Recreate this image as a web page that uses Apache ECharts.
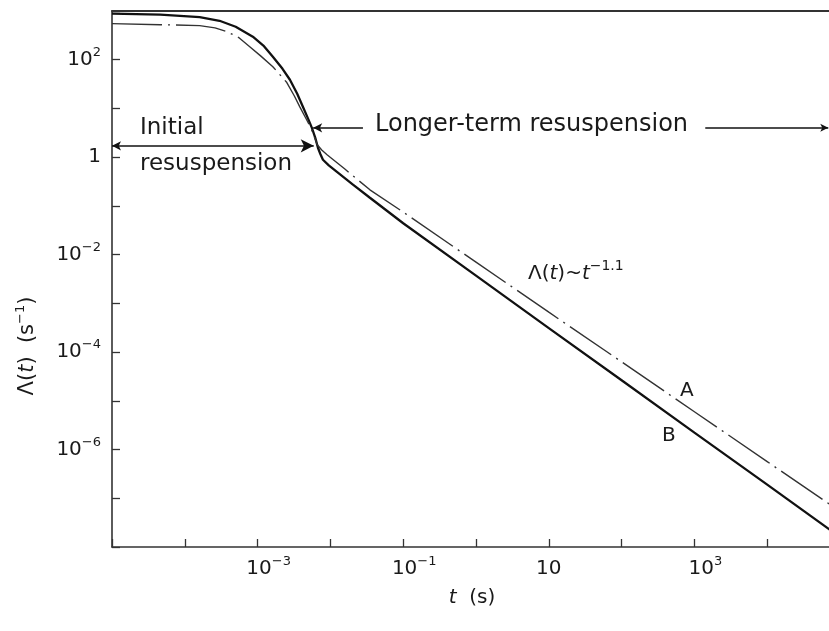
<!DOCTYPE html>
<html>
<head>
<meta charset="utf-8">
<script src="https://cdn.jsdelivr.net/npm/echarts@6/dist/echarts.min.js"></script>
<style>
html,body{margin:0;padding:0;background:#fff;}
#chart{width:829px;height:631px;}
</style>
</head>
<body>
<div id="chart"></div>
<script>
// ---- data (t in s, Lambda in 1/s) ----
const tB = [1e-5, 4.6e-5, 1.6e-4, 3.0e-4, 5.0e-4, 8.6e-4, 1.2e-3, 1.62e-3, 2.2e-3, 2.78e-3, 3.5e-3, 4.19e-3, 5.0e-3, 5.57e-3, 6.2e-3, 6.74e-3, 7.3e-3, 7.9e-3, 9.5e-3, 0.0123, 0.02, 0.0349, 0.1, 1, 10, 100, 1000, 1e4, 1e5];
const lambdaB = [880, 840, 750, 630, 476, 297, 195, 115, 65, 38.8, 20, 10.8, 5.9, 4.0, 2.5, 1.56, 1.15, 0.885, 0.68, 0.50, 0.28, 0.147, 0.044, 3.7e-3, 3.1e-4, 2.65e-5, 2.23e-6, 1.9e-7, 1.6e-8];
const tA = [1e-5, 4.6e-5, 1.6e-4, 2.6e-4, 3.8e-4, 5.5e-4, 7.8e-4, 1.1e-3, 1.62e-3, 2.52e-3, 3.2e-3, 3.8e-3, 4.6e-3, 5.4e-3, 6.6e-3, 7.6e-3, 9.0e-3, 0.0158, 0.0349, 0.1, 1, 10, 100, 1000, 1e4, 1e5];
const lambdaA = [550, 524, 500, 450, 376, 285, 185, 120, 72, 34, 18, 10.8, 6.3, 4.0, 1.8, 1.4, 1.12, 0.57, 0.214, 0.0746, 7.0e-3, 6.6e-4, 6.3e-5, 5.97e-6, 5.65e-7, 5.4e-8];

// axis ranges and labelled decades
const xRange = [1e-5, 1e5];
const yRange = [1e-8, 1e3];
const xLabelExps = [-3, -1, 1, 3];
const yLabelExps = [2, 0, -2, -4, -6];

// annotation arrows (data coordinates)
const initialArrow = [[1e-5, 1.71], [5.9e-3, 1.71]];
const longerArrowLeft = [[5.8e-3, 4.0], [0.028, 4.0]];
const longerArrowRight = [[1.41e3, 4.0], [6.9e4, 4.0]];

const FONT = 'DejaVu Sans';
const INK = '#1a1a1a';

function pairs(xs, ys) { return xs.map((x, i) => [x, ys[i]]); }
function expOf(v) { return Math.round(Math.log10(v)); }
function powLabel(e, centerBase) {
  if (e === 0) return '{b|1}';
  if (e === 1) return '{b|10}';
  const sup = (e < 0 ? '\u2212' : '') + Math.abs(e);
  return (centerBase ? '{sp|}' : '') + '{b|10}{s|' + sup + '}';
}
const richLabel = {
  b: { fontFamily: FONT, fontSize: 20, color: INK, lineHeight: 27 },
  s: { fontFamily: FONT, fontSize: 13, color: INK, verticalAlign: 'top', lineHeight: 14 },
  sp: { width: 22 }
};

const chart = echarts.init(document.getElementById('chart'), null, { renderer: 'canvas' });

const option = {
  animation: false,
  backgroundColor: '#ffffff',
  grid: { left: 112, right: -11, top: 11, bottom: 84, outerBoundsMode: 'none', containLabel: false },
  xAxis: [{
    type: 'log', logBase: 10, min: xRange[0], max: xRange[1], interval: 1,
    axisLine: { show: true, lineStyle: { color: '#333', width: 1.6 } },
    axisTick: { show: true, inside: true, length: 8, lineStyle: { color: '#333', width: 1.3 } },
    splitLine: { show: false },
    axisLabel: {
      margin: 8, showMinLabel: true, showMaxLabel: true, interval: 0,
      formatter: v => { const e = expOf(v); return xLabelExps.includes(e) ? powLabel(e, e !== 1) : ''; },
      rich: richLabel
    }
  }, {
    type: 'log', logBase: 10, min: xRange[0], max: xRange[1], position: 'top',
    axisLine: { show: true, lineStyle: { color: '#333', width: 2 } },
    axisTick: { show: false }, axisLabel: { show: false }, splitLine: { show: false }
  }],
  yAxis: {
    type: 'log', logBase: 10, min: yRange[0], max: yRange[1], interval: 1,
    axisLine: { show: true, lineStyle: { color: '#333', width: 1.6 } },
    axisTick: { show: true, inside: true, length: 8, lineStyle: { color: '#333', width: 1.3 } },
    splitLine: { show: false },
    axisLabel: {
      margin: 11, showMinLabel: true, showMaxLabel: true, interval: 0,
      formatter: v => { const e = expOf(v); return yLabelExps.includes(e) ? powLabel(e, false) : ''; },
      rich: richLabel
    }
  },
  series: [{
    name: 'B', type: 'line', data: pairs(tB, lambdaB),
    showSymbol: false, smooth: false,
    lineStyle: { color: '#111', width: 2.3 },
    markLine: {
      silent: true, animation: false,
      label: { show: false },
      lineStyle: { color: '#111', width: 1.6, type: 'solid' },
      data: [
        [{ coord: initialArrow[0], symbol: 'arrow', symbolSize: [7, 9] }, { coord: initialArrow[1], symbol: 'arrow', symbolSize: [10, 13] }],
        [{ coord: longerArrowLeft[0], symbol: 'arrow', symbolSize: [7, 9] }, { coord: longerArrowLeft[1], symbol: 'none' }],
        [{ coord: longerArrowRight[0], symbol: 'none' }, { coord: longerArrowRight[1], symbol: 'arrow', symbolSize: [6, 8] }]
      ]
    }
  }, {
    name: 'A', type: 'line', data: pairs(tA, lambdaA),
    showSymbol: false, smooth: false,
    lineStyle: { color: '#333', width: 1.4, type: [50, 6, 2, 6] }
  }],
  graphic: [
    { type: 'text', left: 140, top: 117, style: { text: 'Initial', fontFamily: FONT, fontSize: 23, fill: INK } },
    { type: 'text', left: 140, top: 153, style: { text: 'resuspension', fontFamily: FONT, fontSize: 23, fill: INK } },
    { type: 'text', left: 375, top: 113, style: { text: 'Longer-term resuspension', fontFamily: FONT, fontSize: 24, fill: INK } },
    { type: 'text', left: 528, top: 259, style: {
        text: '{n|\u039b(}{i|t}{n|)~}{i|t}{s|\u22121.1}',
        rich: {
          n: { fontFamily: FONT, fontSize: 20, fill: INK, lineHeight: 30 },
          i: { fontFamily: FONT, fontSize: 20, fontStyle: 'italic', fill: INK, lineHeight: 30 },
          s: { fontFamily: FONT, fontSize: 14, fill: INK, verticalAlign: 'top', lineHeight: 14 }
        }
      } },
    { type: 'text', left: 680, top: 381, style: { text: 'A', fontFamily: FONT, fontSize: 20, fill: INK } },
    { type: 'text', left: 662, top: 426, style: { text: 'B', fontFamily: FONT, fontSize: 20, fill: INK } },
    { type: 'text', x: 28, y: 346, rotation: Math.PI / 2, style: {
        text: '{n|\u039b(}{i|t}{n|)  (s}{s|\u22121}{n|)}',
        align: 'center', verticalAlign: 'middle',
        rich: {
          n: { fontFamily: FONT, fontSize: 21, fill: INK, lineHeight: 28 },
          i: { fontFamily: FONT, fontSize: 21, fontStyle: 'italic', fill: INK, lineHeight: 28 },
          s: { fontFamily: FONT, fontSize: 13, fill: INK, verticalAlign: 'top', lineHeight: 14 }
        }
      } },
    { type: 'text', x: 472, y: 598, style: {
        text: '{i|t}{n|  (s)}',
        align: 'center', verticalAlign: 'middle',
        rich: {
          n: { fontFamily: FONT, fontSize: 20, fill: INK },
          i: { fontFamily: FONT, fontSize: 20, fontStyle: 'italic', fill: INK }
        }
      } }
  ]
};
chart.setOption(option);
</script>
</body>
</html>
